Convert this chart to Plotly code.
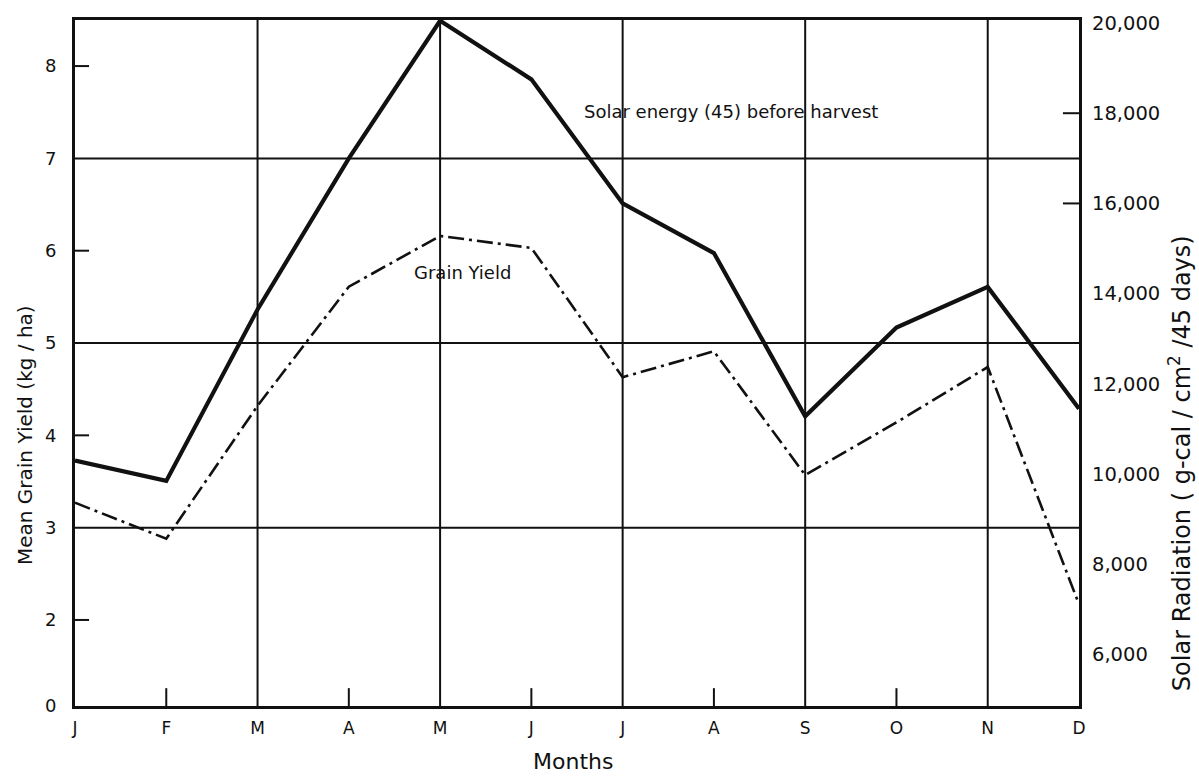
import plotly.graph_objects as go

# ---- data ----
months = ["J", "F", "M", "A", "M", "J", "J", "A", "S", "O", "N", "D"]
solar_energy = [10300, 9850, 13650, 17000, 20050, 18750, 16000, 14900, 11280, 13250, 14150, 11450]
grain_yield = [3.27, 2.88, 4.32, 5.61, 6.16, 6.03, 4.63, 4.91, 3.57, 4.14, 4.74, 2.17]

left_tick_vals = [1.068, 2, 3, 4, 5, 6, 7, 8]
left_tick_text = ["0", "2", "3", "4", "5", "6", "7", "8"]
left_grid_vals = [3, 5, 7]
left_mark_vals = [2, 4, 6, 8]

right_tick_vals = [6000, 8000, 10000, 12000, 14000, 16000, 18000, 20000]
right_tick_text = ["6,000", "8,000", "10,000", "12,000", "14,000", "16,000", "18,000", "20,000"]
right_mark_vals = [16000, 18000]

x_grid_idx = [2, 4, 6, 8, 10]
x_mark_idx = [1, 3, 5, 7, 9]

x = list(range(len(months)))
FONT = "DejaVu Sans, Verdana, sans-serif"
INK = "#111111"

fig = go.Figure()
fig.add_trace(go.Scatter(
    x=x, y=grain_yield, mode="lines", yaxis="y",
    line=dict(color=INK, width=2.6, dash="16px,5px,3px,5px"),
    showlegend=False, hoverinfo="skip", cliponaxis=False))
fig.add_trace(go.Scatter(
    x=x, y=solar_energy, mode="lines", yaxis="y2",
    line=dict(color=INK, width=4.2),
    showlegend=False, hoverinfo="skip", cliponaxis=False))

shapes = []
for v in left_grid_vals:
    shapes.append(dict(type="line", xref="paper", yref="y", x0=0, x1=1, y0=v, y1=v,
                       line=dict(color=INK, width=2), layer="below"))
for i in x_grid_idx:
    shapes.append(dict(type="line", xref="x", yref="paper", x0=i, x1=i, y0=0, y1=1,
                       line=dict(color=INK, width=2), layer="below"))
for i in x_mark_idx:
    shapes.append(dict(type="line", xref="x", yref="paper", x0=i, x1=i, y0=0, y1=0.026,
                       line=dict(color=INK, width=2), layer="below"))
for v in left_mark_vals:
    shapes.append(dict(type="line", xref="paper", yref="y", x0=0, x1=0.014, y0=v, y1=v,
                       line=dict(color=INK, width=2), layer="below"))
for v in right_mark_vals:
    shapes.append(dict(type="line", xref="paper", yref="y2", x0=0.984, x1=1, y0=v, y1=v,
                       line=dict(color=INK, width=2), layer="below"))

fig.update_layout(
    width=1199, height=780,
    margin=dict(l=75, r=120, t=12, b=74),
    paper_bgcolor="white", plot_bgcolor="white",
    font=dict(family=FONT, color=INK, size=18),
    shapes=shapes,
    xaxis=dict(range=[0, 11], tickvals=x, ticktext=months, ticks="", showgrid=False,
               zeroline=False, showline=True, linecolor=INK, linewidth=3, mirror=True,
               tickfont=dict(size=17), ticklabelstandoff=5),
    yaxis=dict(range=[1.068, 8.499], tickvals=left_tick_vals, ticktext=left_tick_text,
               ticks="", showgrid=False, zeroline=False, showline=True, linecolor=INK,
               linewidth=3, mirror=True, tickfont=dict(size=18), ticklabelstandoff=12),
    yaxis2=dict(range=[4860, 20066], overlaying="y", side="right", tickvals=right_tick_vals,
                ticktext=right_tick_text, ticks="", showgrid=False, zeroline=False,
                showline=False, tickfont=dict(size=19.5), ticklabelstandoff=12),
    annotations=[
        dict(text="Solar energy (45) before harvest", xref="paper", yref="paper",
             x=0.653, y=0.866, xanchor="center", yanchor="middle", showarrow=False,
             font=dict(size=18)),
        dict(text="Grain Yield", xref="paper", yref="paper",
             x=0.386, y=0.632, xanchor="center", yanchor="middle", showarrow=False,
             font=dict(size=18)),
        dict(text="Months", xref="paper", yref="paper",
             x=0.496, y=-0.081, xanchor="center", yanchor="middle", showarrow=False,
             font=dict(size=22)),
        dict(text="Mean Grain Yield (kg / ha)", xref="paper", yref="paper",
             x=-0.0498, y=0.395, xanchor="center", yanchor="middle", showarrow=False,
             textangle=-90, font=dict(size=20)),
        dict(text="Solar Radiation ( g-cal / cm<sup>2</sup> /45 days)", xref="paper", yref="paper",
             x=1.1006, y=0.354, xanchor="center", yanchor="middle", showarrow=False,
             textangle=-90, font=dict(size=24)),
    ],
)

fig.write_html("out.html")
